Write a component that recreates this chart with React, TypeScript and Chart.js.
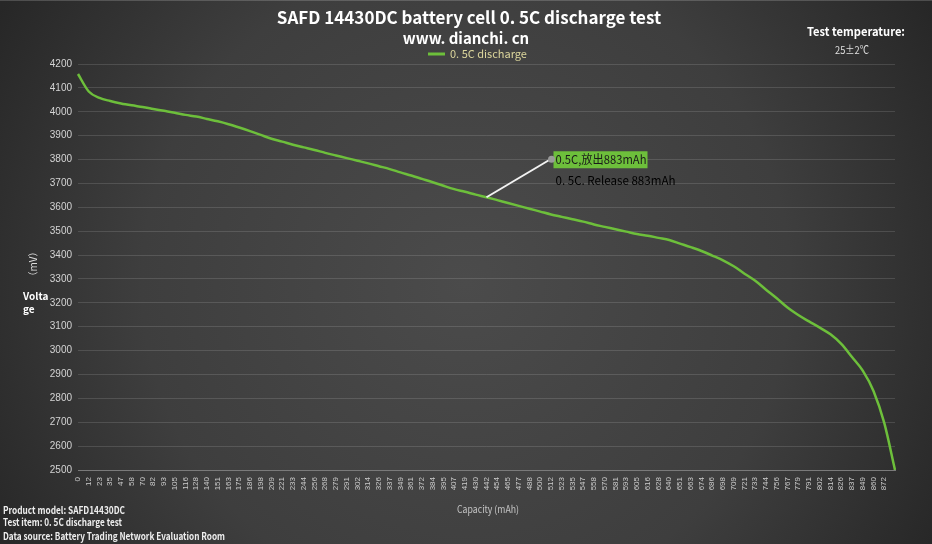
import { useEffect, useRef } from 'react';
import { Chart, registerables } from 'chart.js';

Chart.register(...registerables);

const FONT = '"Noto Sans CJK SC", "Noto Sans", sans-serif';
const TICK_FONT = '"Liberation Sans", Arial, sans-serif';

const capacityLabels = [
  '0', '12', '23', '35', '47', '58', '70', '82', '93', '105',
  '116', '128', '140', '151', '163', '175', '186', '198', '209', '221',
  '233', '244', '256', '268', '279', '291', '302', '314', '326', '337',
  '349', '361', '372', '384', '395', '407', '419', '430', '442', '454',
  '465', '477', '488', '500', '512', '523', '535', '547', '558', '570',
  '581', '593', '605', '616', '628', '640', '651', '663', '674', '686',
  '698', '709', '721', '733', '744', '756', '767', '779', '791', '802',
  '814', '826', '837', '849', '860', '872', '883',
];

const voltage = [
  4158, 4085, 4058, 4045, 4035, 4027, 4020, 4012, 4004, 3996,
  3987, 3980, 3970, 3960, 3948, 3934, 3919, 3903, 3887, 3875,
  3862, 3851, 3840, 3828, 3817, 3806, 3795, 3784, 3772, 3760,
  3746, 3733, 3719, 3705, 3690, 3676, 3665, 3653, 3642, 3630,
  3618, 3606, 3594, 3582, 3570, 3560, 3550, 3540, 3528, 3518,
  3508, 3498, 3488, 3481, 3472, 3463, 3448, 3433, 3417, 3398,
  3378, 3353, 3322, 3292, 3255, 3219, 3180, 3149, 3122, 3096,
  3068, 3028, 2973, 2916, 2831, 2697, 2500,
];

const seriesName = '0. 5C discharge';
const annotationIndex = 38;
const annotationText = '0.5C,放出883mAh';
const annotationText2 = '0. 5C. Release 883mAh';
const titleText = 'SAFD 14430DC battery cell 0. 5C discharge test';
const subtitleText = 'www. dianchi. cn';
const footnotes = [
  'Product model: SAFD14430DC',
  'Test item: 0. 5C discharge test',
  'Data source: Battery Trading Network Evaluation Room',
];
const GREEN = '#6dbf3b';

const decor = {
  id: 'decor',
  beforeDraw(chart: any) {
    const { ctx, width, height } = chart;
    ctx.save();
    const g = ctx.createRadialGradient(width * 0.5, height * 0.52, 0, width * 0.5, height * 0.52, width * 0.58);
    g.addColorStop(0, '#4b4b4b');
    g.addColorStop(0.6, '#3e3e3e');
    g.addColorStop(1, '#272727');
    ctx.fillStyle = g;
    ctx.fillRect(0, 0, width, height);
    ctx.fillStyle = 'rgba(255,255,255,0.18)';
    ctx.fillRect(0, 0, width, 1);
    ctx.restore();
  },
  afterDatasetsDraw(chart: any) {
    const { ctx } = chart;
    const pt = chart.getDatasetMeta(0).data[annotationIndex];
    if (!pt) return;
    const x0 = pt.x, y0 = pt.y;
    const x1 = x0 + 64, y1 = y0 - 38;
    ctx.save();
    ctx.strokeStyle = '#f2f2f2';
    ctx.lineWidth = 2;
    ctx.beginPath();
    ctx.moveTo(x0, y0);
    ctx.lineTo(x1, y1);
    ctx.stroke();
    ctx.fillStyle = GREEN;
    ctx.fillRect(x1 + 3, y1 - 8, 94, 17);
    ctx.fillStyle = '#9a9a9a';
    ctx.beginPath();
    ctx.arc(x1 + 1, y1, 3.5, 0, Math.PI * 2);
    ctx.fill();
    ctx.font = `12px ${FONT}`;
    ctx.textBaseline = 'middle';
    ctx.textAlign = 'left';
    ctx.fillStyle = '#1a1a1a';
    ctx.fillText(annotationText, x1 + 5, y1 + 0.5, 91);
    ctx.fillStyle = '#000000';
    ctx.fillText(annotationText2, x1 + 5, y1 + 21, 120);
    ctx.restore();
  },
  afterDraw(chart: any) {
    const { ctx } = chart;
    ctx.save();
    ctx.textBaseline = 'middle';
    ctx.textAlign = 'center';
    ctx.fillStyle = '#ffffff';
    ctx.font = `bold 17px ${FONT}`;
    ctx.fillText(titleText, 469, 18, 394);
    ctx.font = `bold 15px ${FONT}`;
    ctx.fillText(subtitleText, 466, 38, 136);
    ctx.font = `bold 12px ${FONT}`;
    ctx.fillText('Test temperature:', 856, 31, 98);
    ctx.font = `11px ${FONT}`;
    ctx.fillStyle = '#e0e0e0';
    ctx.fillText('25±2℃', 852, 50, 34);

    // legend
    ctx.strokeStyle = GREEN;
    ctx.lineWidth = 3;
    ctx.beginPath();
    ctx.moveTo(428, 54);
    ctx.lineTo(445, 54);
    ctx.stroke();
    ctx.textAlign = 'left';
    ctx.fillStyle = '#dcd69c';
    ctx.font = `11px ${FONT}`;
    ctx.fillText(seriesName, 450, 54, 80);

    // y axis title
    ctx.save();
    ctx.translate(33, 264);
    ctx.rotate(-Math.PI / 2);
    ctx.textAlign = 'center';
    ctx.fillStyle = '#dddddd';
    ctx.font = `10px ${FONT}`;
    ctx.fillText('（mV）', 0, 0);
    ctx.restore();
    ctx.fillStyle = '#ffffff';
    ctx.font = `bold 10px ${FONT}`;
    ctx.fillText('Volta', 23, 296);
    ctx.fillText('ge', 23, 309);

    // x axis title
    ctx.fillStyle = '#c4c4c4';
    ctx.font = `10px ${FONT}`;
    ctx.fillText('Capacity (mAh)', 457, 509, 62);

    // footnotes
    ctx.fillStyle = '#eeeeee';
    ctx.font = `bold 10px ${FONT}`;
    ctx.fillText(footnotes[0], 3, 510, 122);
    ctx.fillText(footnotes[1], 3, 522, 119);
    ctx.fillText(footnotes[2], 3, 536, 222);
    ctx.restore();
  },
};

export default function App() {
  const ref = useRef<HTMLCanvasElement | null>(null);
  useEffect(() => {
    document.body.style.margin = '0';
    if (!ref.current) return;
    const chart = new Chart(ref.current, {
      type: 'line',
      data: {
        labels: capacityLabels,
        datasets: [
          {
            label: seriesName,
            data: voltage,
            borderColor: GREEN,
            borderWidth: 2.5,
            pointRadius: 0,
            fill: false,
            tension: 0.4,
            cubicInterpolationMode: 'monotone',
          },
        ],
      },
      options: {
        responsive: false,
        animation: false,
        layout: { padding: { top: 64, right: 37, left: 0, bottom: 0 } },
        plugins: {
          legend: { display: false },
          title: { display: false },
          tooltip: { enabled: false },
        },
        scales: {
          x: {
            type: 'category',
            offset: false,
            grid: { display: false, drawTicks: false },
            border: { display: true, color: '#7a7a7a' },
            ticks: {
              autoSkip: false,
              maxRotation: 90,
              minRotation: 90,
              padding: 7,
              color: '#cccccc',
              font: { size: 8, family: TICK_FONT },
              callback: (_v: any, i: number) => (i === capacityLabels.length - 1 ? '' : capacityLabels[i]),
            },
            afterFit: (s: any) => { s.height = 74; },
          },
          y: {
            min: 2500,
            max: 4200,
            grid: { color: 'rgba(255,255,255,0.13)', drawTicks: false },
            border: { display: false },
            ticks: {
              stepSize: 100,
              padding: 6,
              color: '#d4d4d4',
              font: { size: 10, family: TICK_FONT },
              callback: (v: any) => String(v),
            },
            afterFit: (s: any) => { s.width = 78; },
          },
        },
      },
      plugins: [decor],
    } as any);
    return () => chart.destroy();
  }, []);
  return (
    <div style={{ width: 932, height: 544, position: 'relative' }}>
      <canvas ref={ref} width={932} height={544} style={{ display: 'block' }} />
    </div>
  );
}
